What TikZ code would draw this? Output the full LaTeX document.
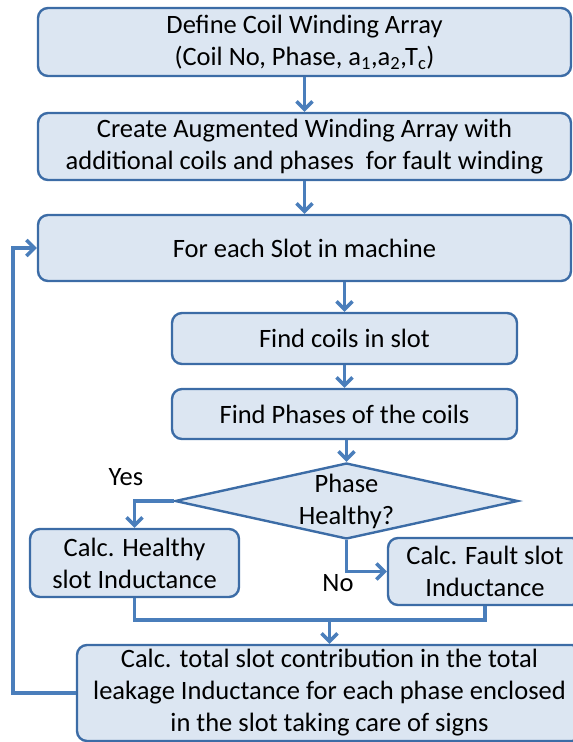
\documentclass[tikz,border=0pt]{standalone}
\usepackage{fontspec}
\setmainfont{Carlito}
\usetikzlibrary{arrows.meta,shapes.geometric}
\definecolor{boxfill}{HTML}{DCE6F2}
\definecolor{boxline}{HTML}{3C6CA6}
\definecolor{arrowcol}{HTML}{4A7EBB}
\begin{document}
\begin{tikzpicture}[x=1pt,y=-1pt,
  every node/.style={font=\fontsize{26.5}{32}\selectfont},
  procbox/.style={draw=boxline,fill=boxfill,line width=2.4pt,rounded corners=10pt,
    inner sep=0pt,align=center},
  decbox/.style={draw=boxline,fill=boxfill,line width=2.4pt,shape=diamond,aspect=4.5,
    inner sep=0pt,align=center},
  conn/.style={draw=arrowcol,line width=3.5pt,-{Straight Barb[length=8pt,width=16pt,line width=3.5pt]}},
  plainline/.style={draw=arrowcol,line width=3.5pt},
  lbl/.style={inner sep=0pt}]
\useasboundingbox (0,0) rectangle (573,742);
\clip (0,0) rectangle (573,742);
\node[procbox,minimum width=533pt,minimum height=68pt] (b1) at (304.5,42)
  {Define Coil Winding Array\\(Coil No, Phase, a\textsubscript{1},a\textsubscript{2},T\textsubscript{c})};
\node[procbox,minimum width=533pt,minimum height=67pt] (b2) at (304.5,146.5)
  {Create Augmented Winding Array with\\additional coils and phases\ \ for fault winding};
\node[procbox,minimum width=533pt,minimum height=66pt] (b3) at (304.5,248)
  {For each Slot in machine};
\node[procbox,minimum width=345pt,minimum height=51pt] (b4) at (344.5,338.5)
  {Find coils in slot};
\node[procbox,minimum width=345pt,minimum height=50pt] (b5) at (344.5,414)
  {Find Phases of the coils};
\node[decbox,minimum width=343pt,minimum height=76pt] (d) at (346.5,501)
  {Phase\\Healthy?};
\node[procbox,minimum width=209pt,minimum height=68pt] (b6) at (134.5,563)
  {Calc. Healthy\\slot Inductance};
\node[procbox,minimum width=194pt,minimum height=67pt] (b7) at (485,571.5)
  {Calc. Fault slot\\Inductance};
\node[procbox,minimum width=505pt,minimum height=96pt] (b8) at (329.5,693)
  {Calc. total slot contribution in the total\\leakage Inductance for each phase enclosed\\in the slot taking care of signs};
\node[lbl] (yes) at (126,477) {Yes};
\node[lbl] (no) at (338,583) {No};
\coordinate (m) at (329.5,620);
\coordinate (loopx) at (13,693);
\draw[conn] (b1.south) -- (b2.north);
\draw[conn] (b2.south) -- (b3.north);
\draw[conn] (b4.north |- b3.south) -- (b4.north);
\draw[conn] (b4.south) -- (b5.north);
\draw[conn] (b5.south -| d.north) -- (d.north);
\draw[conn] (d.west) -| (b6.north);
\draw[conn] (d.south) |- (b7.west);
\draw[plainline] (b6.south) |- (m);
\draw[plainline] (b7.south) |- (m);
\draw[conn] (m) -- (b8.north);
\draw[conn] (b8.west) -- (loopx) |- (b3.west);
\end{tikzpicture}
\end{document}
